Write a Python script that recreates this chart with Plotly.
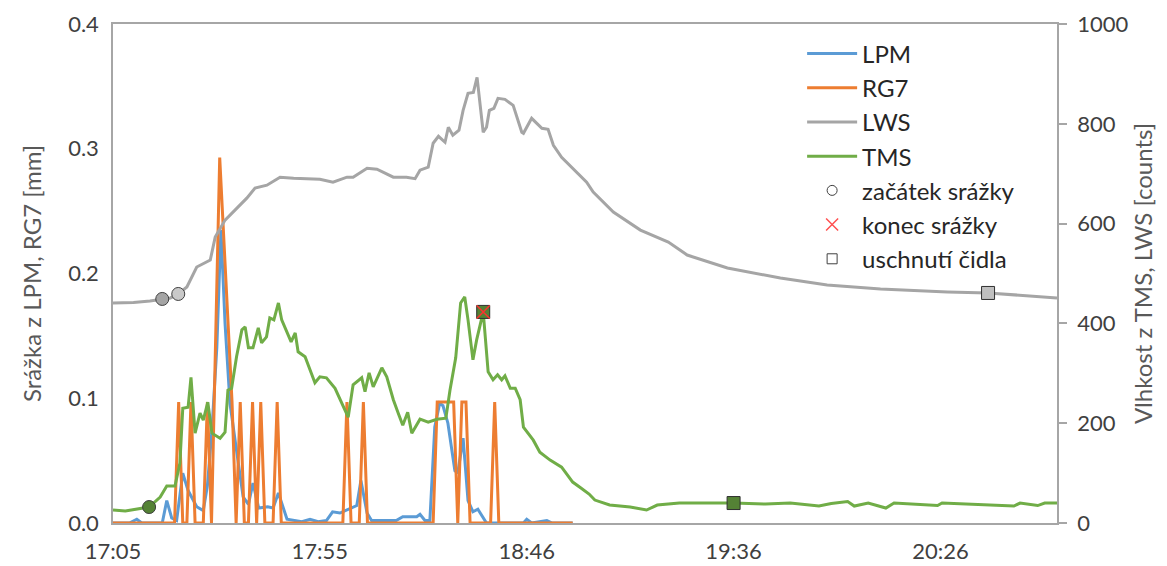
import plotly.graph_objects as go

# time in minutes after 17:05
tick_min = [0, 50.4, 100.8, 151.2, 201.6]
tick_lbl = ["17:05", "17:55", "18:46", "19:36", "20:26"]

# LWS [counts] (right axis)
lws_t = [0, 5, 9, 12, 14, 15.9, 18, 20.4, 23, 23.7, 24.9, 27.3, 30.2, 32.6, 34.6, 37.5, 40.7, 44, 50.4, 53.6,
         57, 58.5, 61.9, 64.3, 68.3, 71.5, 73.6, 74.8, 76.8, 78, 79.3, 80.9, 81.7, 82.8, 84.3, 85.3, 86.5, 87.8,
         88.7, 90.2, 91, 91.7, 92.8, 93.8, 95.5, 97.5, 99.6, 100, 102, 104.5, 106, 107.3, 109.3, 112, 115.4,
         117, 121.9, 128.5, 135.3, 139.9, 149.7, 162.6, 174, 187, 203.3, 213.2, 226, 230]
lws_v = [441, 442, 445, 449, 451, 459, 473, 513, 523, 527, 573, 607, 631, 651, 671, 677, 693, 691, 689, 683,
         693, 693, 711, 709, 693, 693, 690, 707, 713, 761, 775, 763, 793, 777, 787, 827, 861, 863,
         893, 783, 793, 827, 831, 851, 849, 837, 783, 781, 811, 791, 789, 757, 733, 711, 683,
         663, 623, 587, 563, 537, 511, 491, 477, 469, 463, 461, 453, 451]

# TMS [counts] (right axis)
tms_t = [0, 3, 8.8, 11.5, 13.1, 15.1, 16.3, 17, 18.3, 19, 20, 21.2, 22, 23.1, 24.1, 24.9, 26.1, 27.3, 28, 28.9,
         30.1, 31.4, 32.2, 33, 34.1, 35.4, 36.2, 37.4, 38.2, 39.2, 40.3, 41.1, 42.4, 43.4, 44.4, 45.1, 46.8, 48,
         49.2, 50.4, 52, 54.1, 55.7, 57.3, 58.5, 60.6, 61.4, 62.4, 63.4, 65.5, 66.7, 68.3, 69.5, 70.6, 71.8,
         72.8, 74.8, 76.8, 78.9, 81.1, 82.1, 83.5, 84.7, 85.7, 86.5, 87.7, 88.6, 90.2, 91.4, 92.6, 93.7, 94.7,
         95.5, 96.8, 98, 99.2, 100, 102.4, 104, 106.5, 109.3, 112, 114, 116, 117.4, 121, 126, 130, 132.6, 138,
         145, 151.2, 159, 165, 172, 175, 179, 180.6, 184, 188.3, 190.3, 200.9, 202, 219.5, 221, 225.3, 227, 230]
tms_v = [26, 24, 32, 52, 74, 74, 120, 230, 232, 292, 180, 220, 206, 242, 180, 176, 170, 182, 266, 270,
         333, 387, 393, 351, 351, 391, 361, 373, 411, 407, 441, 407, 381, 363, 381, 343, 333, 307,
         281, 293, 291, 270, 240, 212, 277, 291, 263, 301, 273, 311, 293, 247, 220, 196, 222,
         180, 208, 202, 208, 210, 266, 331, 441, 453, 407, 327, 367, 423, 303, 287, 297, 287,
         295, 270, 270, 247, 192, 166, 142, 126, 112, 82, 70, 58, 46, 36, 32, 26, 36, 40,
         40, 40, 38, 40, 34, 39, 43, 34, 40, 30, 40, 35, 40, 34, 40, 35, 40, 40]

# LPM [mm] (left axis)
lpm_t = [0, 4, 5.8, 7, 12, 13.1, 14.3, 15.5, 17, 18.3, 20.4, 22, 23, 24.1, 25.3, 26.3, 27.3, 28.5, 30.1, 31.7,
         33, 34.1, 35.5, 37.7, 39, 40.3, 42.4, 46, 48, 50, 52, 53.5, 55.3, 57.8, 59.4, 60.4, 61.9, 63, 69,
         70.6, 74, 74.8, 76, 77.2, 78.4, 79.6, 80.4, 81.6, 83.3, 84, 85.3, 86.5, 87.7, 88.9, 91, 100, 100.8,
         102, 105.7, 107, 112]
lpm_v = [0, 0, 0.003, 0, 0, 0.018, 0.004, 0.002, 0.04, 0.026, 0.013, 0.01, 0.03, 0.074, 0.141, 0.235, 0.16,
         0.096, 0.058, 0.021, 0.015, 0.032, 0.012, 0.013, 0.012, 0.024, 0.003, 0.001, 0.003, 0.001, 0.002,
         0.009, 0.008, 0.012, 0.014, 0.034, 0.008, 0.002, 0.002, 0.005, 0.005, 0.007, 0.002, 0.002, 0.077,
         0.096, 0.094, 0.08, 0.042, 0.04, 0.068, 0.018, 0.009, 0.011, 0, 0, 0.003, 0, 0.002, 0, 0]

# RG7 [mm] (left axis)
rg7_t = [0, 15, 16, 17, 18, 19, 20, 22, 23, 24, 26, 29, 30, 31, 32, 33, 34, 35, 36, 37, 39, 40, 41, 56, 57,
         58, 60, 61, 62, 78, 79, 83, 84, 85, 86, 87, 92, 93, 94, 112]
rg7_v = [0, 0, 0.097, 0, 0, 0.097, 0, 0, 0.097, 0, 0.293, 0.097, 0, 0.097, 0, 0, 0.097, 0, 0.097, 0, 0, 0.097,
         0, 0, 0.097, 0, 0, 0.097, 0, 0, 0.097, 0.097, 0, 0.097, 0.097, 0, 0, 0.097, 0, 0]

# event markers (right axis)
start_t = [8.8, 12, 15.9]
start_v = [32, 449, 459]
start_col = ["#548235", "#a5a5a5", "#c9c9c9"]
end_t = [90.2]
end_v = [423]
dry_t = [90.2, 151.2, 213.2]
dry_v = [423, 40, 461]
dry_col = ["#548235", "#548235", "#bfbfbf"]

FONT = "Lato"
fig = go.Figure()

def line(name, x, y, color, axis):
    fig.add_trace(go.Scatter(x=x, y=y, mode="lines", name=name, yaxis=axis, legendgroup=name,
                             line=dict(color=color, width=3)))

line("LPM", lpm_t, lpm_v, "#5B9BD5", "y")
line("RG7", rg7_t, rg7_v, "#ED7D31", "y")
line("LWS", lws_t, lws_v, "#A5A5A5", "y2")
line("TMS", tms_t, tms_v, "#70AD47", "y2")

fig.add_trace(go.Scatter(x=start_t, y=start_v, mode="markers", yaxis="y2", showlegend=False,
                         marker=dict(symbol="circle", size=13, color=start_col,
                                     line=dict(color="#404040", width=1))))
fig.add_trace(go.Scatter(x=dry_t, y=dry_v, mode="markers", yaxis="y2", showlegend=False,
                         marker=dict(symbol="square", size=13, color=dry_col,
                                     line=dict(color="#303030", width=1))))
fig.add_trace(go.Scatter(x=end_t, y=end_v, mode="markers", yaxis="y2", showlegend=False,
                         marker=dict(symbol="x-thin", size=13, color="#ff3030",
                                     line=dict(color="#ff3030", width=1.5))))

# legend entries for markers
fig.add_trace(go.Scatter(x=[None], y=[None], mode="markers", name="začátek srážky", legendgroup="a",
                         marker=dict(symbol="circle-open", size=10, color="#404040", line=dict(width=1))))
fig.add_trace(go.Scatter(x=[None], y=[None], mode="markers", name="konec srážky", legendgroup="b",
                         marker=dict(symbol="x-thin-open", size=12, color="#ff5050", line=dict(width=1.5))))
fig.add_trace(go.Scatter(x=[None], y=[None], mode="markers", name="uschnutí čidla", legendgroup="c",
                         marker=dict(symbol="square-open", size=10, color="#404040", line=dict(width=1))))

axcol = "#a6a6a6"
fig.update_layout(
    width=1167, height=566,
    margin=dict(l=113, r=110, t=24, b=43),
    paper_bgcolor="white", plot_bgcolor="white",
    font=dict(family=FONT, size=22, color="#404040"),
    showlegend=True,
    legend=dict(x=0.73, y=0.985, xanchor="left", yanchor="top", bgcolor="rgba(0,0,0,0)",
                font=dict(family=FONT, size=24, color="#262626"), traceorder="grouped",
                tracegroupgap=0, itemwidth=50),
    xaxis=dict(range=[0, 230], tickmode="array", tickvals=tick_min, ticktext=tick_lbl,
               showgrid=False, zeroline=False, showline=True, linecolor=axcol, linewidth=1.5,
               mirror=True, ticks="", ticklabelstandoff=8, automargin=False,
               tickfont=dict(size=22, color="#404040")),
    yaxis=dict(range=[0, 0.4], tickmode="array", tickvals=[0, 0.1, 0.2, 0.3, 0.4],
               ticktext=["0.0", "0.1", "0.2", "0.3", "0.4"], showgrid=False, zeroline=False,
               showline=True, linecolor=axcol, linewidth=1.5, ticks="", ticklabelstandoff=8,
               automargin=False,
               title=dict(text="Srážka z LPM, RG7 [mm]", standoff=20,
                          font=dict(size=24, color="#595959")),
               tickfont=dict(size=22, color="#404040")),
    yaxis2=dict(range=[0, 1000], overlaying="y", side="right", tickmode="array",
                tickvals=[0, 200, 400, 600, 800, 1000], showgrid=False, zeroline=False,
                showline=True, linecolor=axcol, linewidth=1.5, ticks="outside", ticklen=8,
                tickcolor=axcol, tickwidth=1.5, ticklabelstandoff=6, automargin=False,
                title=dict(text="Vlhkost z TMS, LWS [counts]", standoff=8,
                           font=dict(size=24, color="#595959")),
                tickfont=dict(size=22, color="#404040")),
)

fig.write_html("out.html")
